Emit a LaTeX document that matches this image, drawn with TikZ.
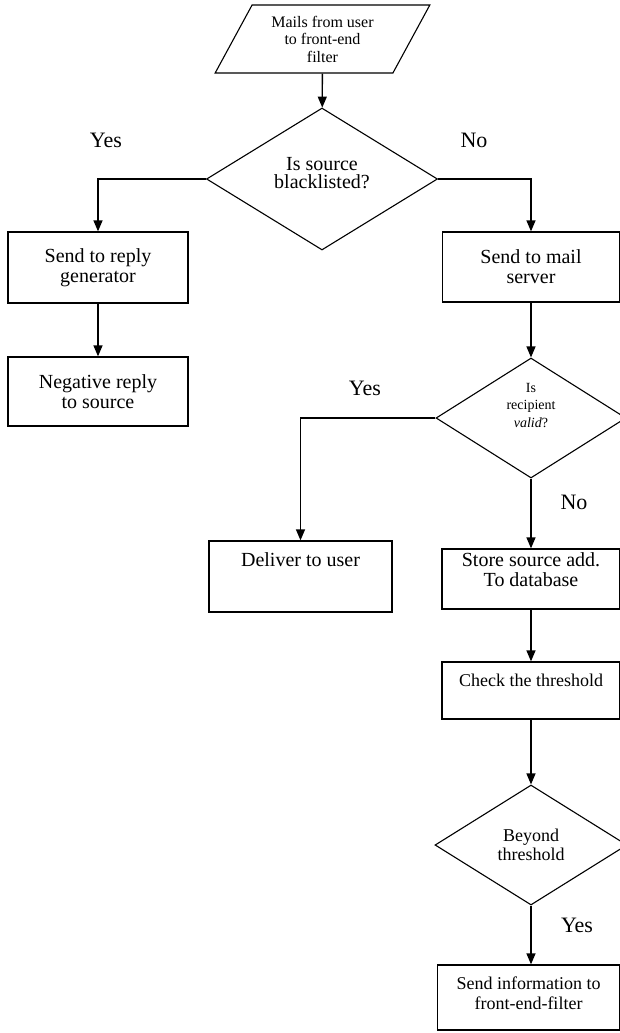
\documentclass[tikz,border=0pt]{standalone}
\usepackage{fontspec}
\setmainfont{Liberation Serif}
\usetikzlibrary{shapes.geometric, arrows.meta}

\begin{document}
\begin{tikzpicture}[x=1pt, y=-1pt,
    box/.style={draw, line width=1.3pt, align=center, inner sep=0pt,
                font=\fontsize{20}{20}\selectfont},
    decision/.style={draw, diamond, line width=1.1pt, align=center, inner sep=0pt},
    io/.style={draw, trapezium, trapezium left angle=60, trapezium right angle=120,
               trapezium stretches=true, line width=1.1pt, align=center, inner sep=0pt},
    answer/.style={font=\fontsize{22}{22}\selectfont},
    flow/.style={line width=1.3pt, -{Triangle[length=11pt, width=9pt]}}]

    \useasboundingbox (0,0) rectangle (620,1033);

    \node[io, minimum width=215pt, minimum height=68pt,
          font=\fontsize{16}{17.5}\selectfont] (mails) at (322.5,39)
      {Mails from user\\to front-end\\filter};

    \node[decision, minimum width=231pt, minimum height=142pt,
          font=\fontsize{20}{18}\selectfont] (blacklisted) at (322,179)
      {Is source\\blacklisted?\\[-6pt]\mbox{}};

    \node[box, minimum width=180pt, minimum height=71pt] (replygen) at (98,267.5)
      {Send to reply\\generator};
    \node[box, minimum width=180pt, minimum height=69pt] (negreply) at (98,391.5)
      {Negative reply\\to source};

    \node[box, minimum width=177pt, minimum height=70pt] (mailserver) at (531,267)
      {Send to mail\\server};

    \node[decision, minimum width=190pt, minimum height=120pt,
          font=\fontsize{14}{17.5}\selectfont] (valid) at (531,418)
      {Is\\recipient\\\textit{valid}?\\[8pt]\mbox{}};

    \node[box, minimum width=183pt, minimum height=71pt] (deliver) at (300.5,576.5)
      {Deliver to user\\[13pt]\mbox{}};

    \node[box, minimum width=178pt, minimum height=60pt] (store) at (531,579)
      {Store source add.\\To database\\[-2pt]\mbox{}};

    \node[box, minimum width=178pt, minimum height=57pt,
          font=\fontsize{18}{20}\selectfont] (check) at (531,690.5)
      {Check the threshold\\[1pt]\mbox{}};

    \node[decision, minimum width=192pt, minimum height=120pt,
          font=\fontsize{18}{19}\selectfont] (beyond) at (531,845)
      {Beyond\\threshold};

    \node[box, minimum width=182pt, minimum height=65pt,
          font=\fontsize{18}{20}\selectfont] (sendinfo) at (528.5,997.5)
      {Send information to\\front-end-filter\\[-11pt]\mbox{}};

    % answers
    \node[answer] (yes1) at (106,140) {Yes};
    \node[answer] (no1) at (474,140) {No};
    \node[answer] (yes2) at (365,388) {Yes};
    \node[answer] (no2) at (574,502) {No};
    \node[answer] (yes3) at (577,925) {Yes};

    \draw[flow] (mails) -- (blacklisted);
    \draw[flow] (blacklisted.west) -| (replygen.north);
    \draw[flow] (replygen) -- (negreply);
    \draw[flow] (blacklisted.east) -| (mailserver.north);
    \draw[flow] (mailserver) -- (valid);
    \draw[flow] (valid.west) -| (deliver.north);
    \draw[flow] (valid) -- (store);
    \draw[flow] (store) -- (check);
    \draw[flow] (check) -- (beyond);
    \draw[flow] (beyond.south) -- (beyond.south |- sendinfo.north);
\end{tikzpicture}
\end{document}
